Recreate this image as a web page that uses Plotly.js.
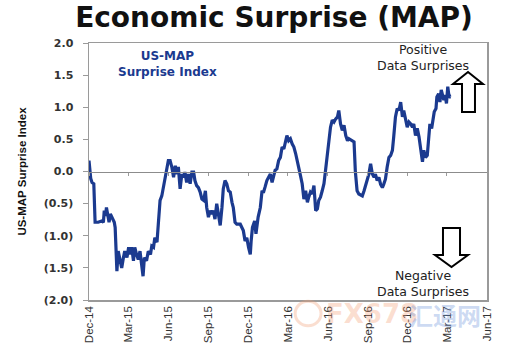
<!DOCTYPE html>
<html>
<head>
<meta charset="utf-8">
<script src="https://cdn.plot.ly/plotly-3.0.1.min.js"></script>
<style>html,body{margin:0;padding:0;background:#fff;}#chart{width:514px;height:352px;}</style>
</head>
<body>
<div id="chart"></div>
<script>
// ---- data ----
const dates = [
 '2014-12-01','2014-12-03','2014-12-05','2014-12-08','2014-12-12','2014-12-15','2014-12-22','2014-12-30',
 '2015-01-03','2015-01-05','2015-01-08','2015-01-10','2015-01-14','2015-01-16','2015-01-19','2015-01-23','2015-01-28','2015-01-30',
 '2015-02-01','2015-02-03','2015-02-06','2015-02-11','2015-02-14','2015-02-18','2015-02-21','2015-02-26',
 '2015-03-02','2015-03-06','2015-03-09','2015-03-13','2015-03-16','2015-03-20','2015-03-24','2015-03-28',
 '2015-04-01','2015-04-04','2015-04-07','2015-04-12','2015-04-16','2015-04-21','2015-04-24','2015-04-28',
 '2015-05-01','2015-05-06','2015-05-09','2015-05-13','2015-05-17','2015-05-21','2015-05-25','2015-05-29',
 '2015-06-01','2015-06-05','2015-06-09','2015-06-13','2015-06-17','2015-06-21','2015-06-24','2015-06-28',
 '2015-07-02','2015-07-05','2015-07-09','2015-07-13','2015-07-17','2015-07-21','2015-07-25','2015-07-29',
 '2015-08-01','2015-08-05','2015-08-09','2015-08-13','2015-08-17','2015-08-21','2015-08-25','2015-08-28',
 '2015-09-01','2015-09-05','2015-09-09','2015-09-12','2015-09-16','2015-09-20','2015-09-24','2015-09-28',
 '2015-10-02','2015-10-05','2015-10-09','2015-10-13','2015-10-17','2015-10-21','2015-10-25','2015-10-28',
 '2015-11-01','2015-11-05','2015-11-13','2015-11-17','2015-11-20','2015-11-24','2015-11-28',
 '2015-12-02','2015-12-06','2015-12-08','2015-12-11','2015-12-16','2015-12-19','2015-12-24','2015-12-29',
 '2016-01-02','2016-01-05','2016-01-09','2016-01-13','2016-01-17','2016-01-21','2016-01-25','2016-01-28',
 '2016-02-01','2016-02-05','2016-02-09','2016-02-13','2016-02-17','2016-02-21','2016-02-24','2016-02-28',
 '2016-03-03','2016-03-07','2016-03-11','2016-03-15','2016-03-19','2016-03-23','2016-03-26','2016-03-30',
 '2016-04-03','2016-04-07','2016-04-11','2016-04-15','2016-04-18','2016-04-22','2016-04-26','2016-04-30',
 '2016-05-04','2016-05-08','2016-05-11','2016-05-15','2016-05-19','2016-05-23','2016-05-27','2016-05-31',
 '2016-06-03','2016-06-07','2016-06-11','2016-06-15','2016-06-19','2016-06-23','2016-06-26','2016-06-30',
 '2016-07-04','2016-07-08','2016-07-12','2016-07-16','2016-07-19','2016-07-27','2016-07-31',
 '2016-08-03','2016-08-07','2016-08-11','2016-08-19','2016-08-23','2016-08-27','2016-08-31',
 '2016-09-03','2016-09-07','2016-09-11','2016-09-15','2016-09-18','2016-09-22','2016-09-26','2016-09-30',
 '2016-10-04','2016-10-07','2016-10-11','2016-10-15','2016-10-19','2016-10-23','2016-10-27','2016-10-30',
 '2016-11-03','2016-11-07','2016-11-11','2016-11-15','2016-11-19','2016-11-22','2016-11-26','2016-11-30',
 '2016-12-04','2016-12-08','2016-12-12','2016-12-15','2016-12-19','2016-12-23','2016-12-27','2016-12-31',
 '2017-01-04','2017-01-07','2017-01-11','2017-01-15','2017-01-18','2017-01-21','2017-01-25','2017-01-28','2017-01-31',
 '2017-02-04','2017-02-06','2017-02-10','2017-02-13','2017-02-16','2017-02-19','2017-02-22','2017-02-25','2017-02-28',
 '2017-03-03','2017-03-05','2017-03-08','2017-03-10'
];
const surprise = [
 0.17,-0.04,-0.11,-0.17,-0.19,-0.79,-0.79,-0.77,
 -0.79,-0.61,-0.69,-0.56,-0.71,-0.79,-0.66,-0.71,-0.79,-0.87,
 -1.44,-1.55,-1.24,-1.42,-1.50,-1.34,-1.24,-1.34,
 -1.18,-1.29,-1.18,-1.39,-1.18,-1.29,-1.37,-1.24,
 -1.44,-1.63,-1.34,-1.39,-1.24,-1.29,-1.16,-1.18,
 -1.03,-1.10,-0.82,-0.45,-0.38,-0.24,-0.09,0.07,
 0.17,0.17,0.07,-0.09,0.09,-0.04,0.07,-0.27,
 -0.04,-0.09,-0.01,-0.17,-0.04,-0.19,-0.01,-0.01,
 -0.14,-0.22,-0.25,-0.32,-0.43,-0.45,-0.30,-0.56,
 -0.71,-0.61,-0.66,-0.61,-0.74,-0.50,-0.71,-0.84,
 -0.56,-0.27,-0.14,-0.19,-0.30,-0.32,-0.48,-0.56,
 -0.79,-0.82,-0.82,-0.87,-0.92,-1.08,-1.03,
 -1.18,-1.29,-1.08,-0.87,-0.77,-0.97,-0.71,-0.56,
 -0.30,-0.33,-0.24,-0.14,-0.09,-0.04,-0.17,-0.09,
 0.02,0.04,0.17,0.22,0.38,0.35,0.43,0.56,
 0.48,0.51,0.43,0.38,0.28,0.17,0.07,-0.06,
 -0.19,-0.43,-0.30,-0.48,-0.40,-0.32,-0.35,-0.22,
 -0.61,-0.58,-0.45,-0.40,-0.30,-0.19,0.04,0.28,
 0.54,0.69,0.80,0.77,0.82,0.85,0.95,0.74,
 0.64,0.72,0.56,0.48,0.51,0.48,0.46,
 0.00,-0.30,-0.35,-0.38,-0.30,-0.20,-0.14,
 -0.04,0.12,-0.04,-0.09,-0.04,-0.14,-0.09,-0.20,
 -0.25,-0.20,-0.12,0.07,0.22,0.25,0.33,0.54,
 0.85,0.98,0.95,1.08,0.85,0.95,0.80,0.69,
 0.77,0.74,0.69,0.74,0.56,0.67,0.54,0.35,
 0.15,0.33,0.22,0.25,0.54,0.74,0.67,0.80,0.93,
 0.98,1.16,1.21,1.08,1.27,1.16,1.11,1.19,1.06,
 1.32,1.21,1.16,1.16
];
const xTickVals = ['2014-12-01','2015-03-01','2015-06-01','2015-09-01','2015-12-01','2016-03-01','2016-06-01','2016-09-01','2016-12-01','2017-03-01','2017-06-01'];
const xTickText = ['Dec-14','Mar-15','Jun-15','Sep-15','Dec-15','Mar-16','Jun-16','Sep-16','Dec-16','Mar-17','Jun-17'];
const yTickVals = [-2,-1.5,-1,-0.5,0,0.5,1,1.5,2];
const yTickText = ['(2.0)','(1.5)','(1.0)','(0.5)','0.0','0.5','1.0','1.5','2.0'];
const titleText = 'Economic Surprise (MAP)';
const yTitle = 'US-MAP Surprise Index';
const seriesLabel = 'US-MAP<br>Surprise Index';
const posLabel = 'Positive<br>Data Surprises';
const negLabel = 'Negative<br>Data Surprises';

const xRange = ['2014-12-01','2017-06-01'];

const traces = [
  {x: dates, y: surprise, type: 'scatter', mode: 'lines',
   line: {color: '#1b3a8f', width: 3.2}, hoverinfo: 'skip'},
  {x: xRange, y: [0, 0], xaxis: 'x2', type: 'scatter', mode: 'lines',
   line: {color: 'rgba(0,0,0,0)', width: 0}, hoverinfo: 'skip'}
];

const grey = '#9a9a9a';
const layout = {
  width: 514, height: 352,
  margin: {l: 89, r: 27, t: 43, b: 52},
  paper_bgcolor: '#fff', plot_bgcolor: '#fff',
  showlegend: false,
  title: {text: titleText, x: 0.533, xanchor: 'center', y: 0.952, yanchor: 'middle',
          font: {family: 'DejaVu Sans', size: 28, color: '#111', weight: 'bold'}},
  xaxis: {type: 'date', range: xRange, tickvals: xTickVals, ticktext: xTickText,
          tickangle: -90, ticks: '', showgrid: false, zeroline: false,
          showline: true, mirror: true, linecolor: grey, linewidth: 1.5,
          tickfont: {family: 'Liberation Sans', size: 11.5, color: '#333'}},
  xaxis2: {type: 'date', range: xRange, overlaying: 'x', anchor: 'free', position: 0.5,
           tickvals: xTickVals, showticklabels: false, ticks: 'outside', ticklen: 3,
           tickcolor: grey, showgrid: false, zeroline: false,
           showline: true, linecolor: '#8c8c8c', linewidth: 1.5},
  yaxis: {range: [-2, 2], tickvals: yTickVals, ticktext: yTickText,
          ticks: 'outside', ticklen: 5, tickcolor: grey, showgrid: false, zeroline: false,
          ticklabelstandoff: 7,
          showline: true, mirror: true, linecolor: grey, linewidth: 1.5,
          tickfont: {family: 'DejaVu Sans', size: 11, color: '#333', weight: 'bold'},
          title: {text: yTitle, standoff: 14,
                  font: {family: 'Liberation Sans', size: 11.5, color: '#111', weight: 'bold'}}},
  annotations: [
    {xref: 'paper', yref: 'paper', x: 0.196, y: 0.92, xanchor: 'center', yanchor: 'middle',
     text: seriesLabel, showarrow: false,
     font: {family: 'DejaVu Sans', size: 12, color: '#1b3a8f', weight: 'bold'}},
    {xref: 'paper', yref: 'paper', x: 0.84, y: 0.945, xanchor: 'center', yanchor: 'middle',
     text: posLabel, showarrow: false,
     font: {family: 'DejaVu Sans', size: 12.5, color: '#222'}},
    {xref: 'paper', yref: 'paper', x: 0.84, y: 0.065, xanchor: 'center', yanchor: 'middle',
     text: negLabel, showarrow: false,
     font: {family: 'DejaVu Sans', size: 12.5, color: '#222'}},
    {xref: 'paper', yref: 'paper', x: 0.71, y: -0.055, xanchor: 'center', yanchor: 'middle',
     text: 'FX678', showarrow: false,
     font: {family: 'DejaVu Sans', size: 26, color: 'rgba(244,160,120,0.35)', weight: 'bold'}},
    {xref: 'paper', yref: 'paper', x: 0.895, y: -0.055, xanchor: 'center', yanchor: 'middle',
     text: '汇通网', showarrow: false,
     font: {family: 'Noto Sans CJK SC', size: 24, color: 'rgba(110,150,220,0.35)', weight: 'bold'}}
  ],
  shapes: [
    // up arrow (outlined)
    {type: 'path', xref: 'paper', yref: 'paper',
     path: 'M 0.9372 0.7315 L 0.9698 0.7315 L 0.9698 0.8405 L 0.9899 0.8405 L 0.9523 0.8872 L 0.9146 0.8405 L 0.9372 0.8405 Z',
     fillcolor: '#fff', line: {color: '#000', width: 2}},
    // down arrow (outlined)
    {type: 'path', xref: 'paper', yref: 'paper',
     path: 'M 0.8894 0.2802 L 0.9322 0.2802 L 0.9322 0.1751 L 0.9523 0.1751 L 0.9108 0.1284 L 0.8693 0.1751 L 0.8894 0.1751 Z',
     fillcolor: '#fff', line: {color: '#000', width: 2}},
    // watermark logo ring
    {type: 'circle', xref: 'paper', yref: 'paper', x0: 0.518, x1: 0.583, y0: -0.1, y1: -0.005,
     line: {color: 'rgba(240,160,120,0.35)', width: 3}, fillcolor: 'rgba(0,0,0,0)'}
  ]
};

Plotly.newPlot('chart', traces, layout, {staticPlot: true, displayModeBar: false});
</script>
</body>
</html>
